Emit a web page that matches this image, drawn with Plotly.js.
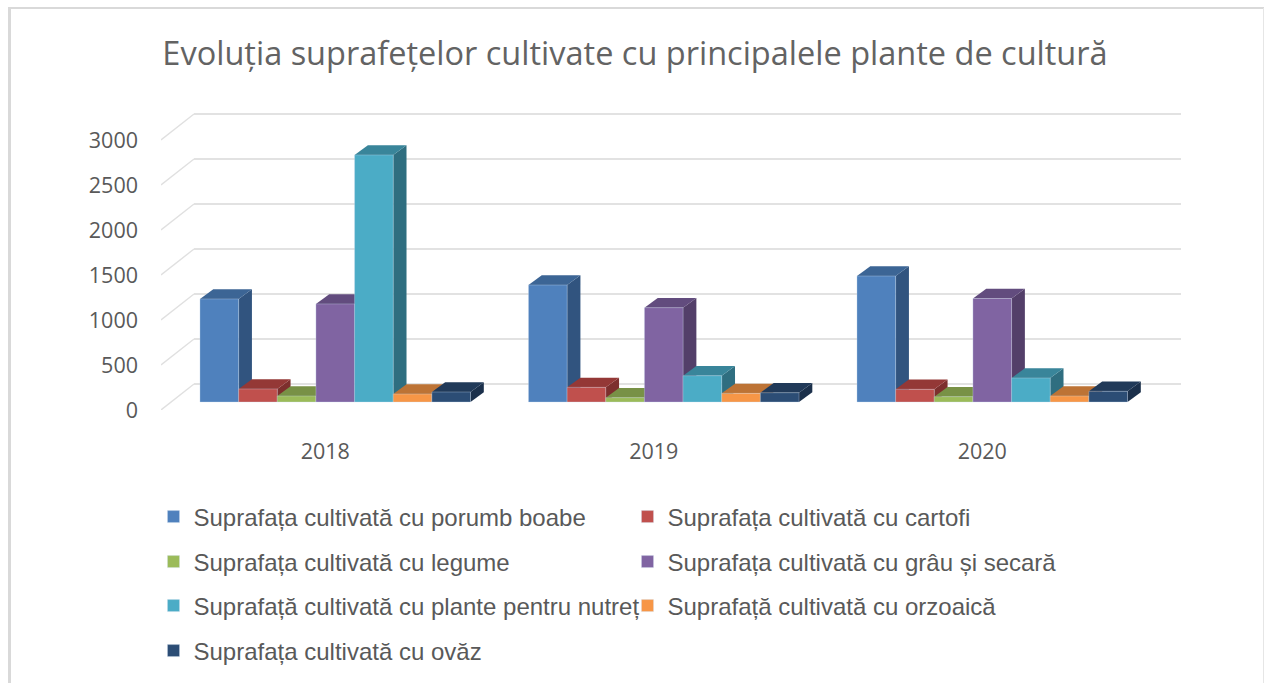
<!DOCTYPE html>
<html><head><meta charset="utf-8">
<script src="https://cdn.plot.ly/plotly-3.0.1.min.js"></script>
<style>html,body{margin:0;padding:0;background:#fff;overflow:hidden}#c{width:1264px;height:683px}</style>
</head><body><div id="c"></div>
<script>
const years = ["2018","2019","2020"];
const porumb = [1145,1300,1400];
const cartofi = [145,163,141];
const legume = [67,48,59];
const grau = [1090,1048,1150];
const nutret = [2745,292,267];
const orzoaica = [89,96,67];
const ovaz = [111,103,119];
const seriesNames = ["Suprafața cultivată cu porumb boabe","Suprafața cultivată cu cartofi","Suprafața cultivată cu legume","Suprafața cultivată cu grâu și secară","Suprafață cultivată cu plante pentru nutreț","Suprafață cultivată cu orzoaică","Suprafața cultivată cu ovăz"];
const frontColors = ["#4f81bd","#c0504d","#9bbb59","#8064a2","#4bacc6","#f79646","#2c4d75"];
const topColors = ["#3c6595","#943836","#789146","#624c7e","#39859a","#bd7335","#213a59"];
const sideColors = ["#31547f","#7d2f2d","#657b3b","#533f69","#2f6e80","#a0612c","#1b304b"];
const yTicks = [0,500,1000,1500,2000,2500,3000];
const legendSpots = [[167,517],[641,517],[167,562],[641,562],[167,606],[641,606],[167,651]];
const allSeries = [porumb,cartofi,legume,grau,nutret,orzoaica,ovaz];

const W=1264,H=683,L=161,R=1181,T=100,B=410;
const pxPerCat=328.5, pxPerVal=0.09;
const xMin=-0.5, xMax=xMin+(R-L)/pxPerCat, yMax=(B-T)/pxPerVal;
const barW=38.65/pxPerCat, groupShift=10/pxPerCat, baseVal=8/pxPerVal;
const dx=13.3/pxPerCat, dy=9.7/pxPerVal;
const gridDx=33/pxPerCat, gridDy=26/pxPerVal;
const centers=years.map((_,i)=>i+groupShift);

const traces=[];
yTicks.forEach(t=>traces.push({type:'scatter',mode:'lines',x:[xMin,xMin+gridDx],y:[t,t+gridDy],
  line:{color:'#e0e0e0',width:1.4},hoverinfo:'skip',showlegend:false,xaxis:'x',yaxis:'y'}));
yTicks.forEach(t=>traces.push({type:'scatter',mode:'lines',x:[xMin+gridDx,xMax],y:[t+gridDy,t+gridDy],
  line:{color:'#e2e2e2',width:2.2},hoverinfo:'skip',showlegend:false,xaxis:'x',yaxis:'y'}));

centers.forEach((c,i)=>{
  allSeries.forEach((s,j)=>{
    const l=c-3.5*barW+j*barW, r=l+barW, top=baseVal+s[i];
    traces.push({type:'scatter',mode:'lines',fill:'toself',x:[r,r+dx,r+dx,r,r],y:[baseVal,baseVal+dy,top+dy,top,baseVal],
      fillcolor:sideColors[j],line:{width:0},hoverinfo:'skip',showlegend:false,xaxis:'x',yaxis:'y'});
    traces.push({type:'scatter',mode:'lines',fill:'toself',x:[l,r,r+dx,l+dx,l],y:[top,top,top+dy,top+dy,top],
      fillcolor:topColors[j],line:{width:0},hoverinfo:'skip',showlegend:false,xaxis:'x',yaxis:'y'});
  });
});

allSeries.forEach((s,j)=>{
  traces.push({type:'bar',name:seriesNames[j],x:centers,y:s,base:years.map(()=>baseVal),
    marker:{color:frontColors[j],line:{color:'rgba(205,220,240,0.55)',width:0.6}},
    xaxis:'x2',yaxis:'y2',showlegend:true,legend:j===0?'legend':'legend'+(j+1),
    customdata:years,hovertemplate:'%{customdata}: %{y}<extra>'+seriesNames[j]+'</extra>'});
});

const layout={
  width:W,height:H,autosize:false,paper_bgcolor:'#fff',plot_bgcolor:'rgba(0,0,0,0)',
  margin:{l:L,r:W-R,t:T,b:H-B,pad:0,autoexpand:false},
  title:{text:"Evoluția suprafețelor cultivate cu principalele plante de cultură",x:635/W,xref:'container',xanchor:'center',
    y:1-54/H,yref:'container',yanchor:'middle',font:{family:'"Open Sans"',size:32.5,color:'#636363'}},
  barmode:'group',bargap:1-7*barW,bargroupgap:0,
  xaxis:{range:[xMin,xMax],tickmode:'array',tickvals:years.map((_,i)=>i),ticktext:years,showgrid:false,zeroline:false,showline:false,
    ticks:'',ticklabelstandoff:26,tickfont:{family:'"Open Sans"',size:21.5,color:'#595959'},fixedrange:true},
  yaxis:{range:[0,yMax],tickmode:'array',tickvals:yTicks,ticktext:yTicks.map(String),showgrid:false,zeroline:false,showline:false,
    ticks:'',ticklabelstandoff:22,tickfont:{family:'"Open Sans"',size:21.5,color:'#595959'},fixedrange:true},
  xaxis2:{range:[xMin,xMax],overlaying:'x',visible:false,fixedrange:true},
  yaxis2:{range:[0,yMax],overlaying:'y',visible:false,fixedrange:true},
  shapes:[
    {type:'line',xref:'paper',yref:'paper',x0:(9.5-L)/(R-L),x1:(9.5-L)/(R-L),y0:(B-8)/(B-T),y1:(B-683)/(B-T),line:{color:'#d9d9d9',width:3}},
    {type:'line',xref:'paper',yref:'paper',x0:(8-L)/(R-L),x1:(1264-L)/(R-L),y0:(B-8)/(B-T),y1:(B-8)/(B-T),line:{color:'#d9d9d9',width:2}},
    {type:'line',xref:'paper',yref:'paper',x0:(1263.5-L)/(R-L),x1:(1263.5-L)/(R-L),y0:(B-8)/(B-T),y1:(B-683)/(B-T),line:{color:'#e6e6e6',width:1}}
  ]
};
legendSpots.forEach((p,j)=>{
  layout[j===0?'legend':'legend'+(j+1)]={xref:'container',yref:'container',x:(p[0]-13.5)/W,y:1-p[1]/H,xanchor:'left',yanchor:'middle',
    bgcolor:'rgba(0,0,0,0)',borderwidth:0,font:{family:'"Liberation Sans"',size:24,color:'#595959'}};
});
Plotly.newPlot('c',traces,layout,{displayModeBar:false,responsive:false});
</script></body></html>
